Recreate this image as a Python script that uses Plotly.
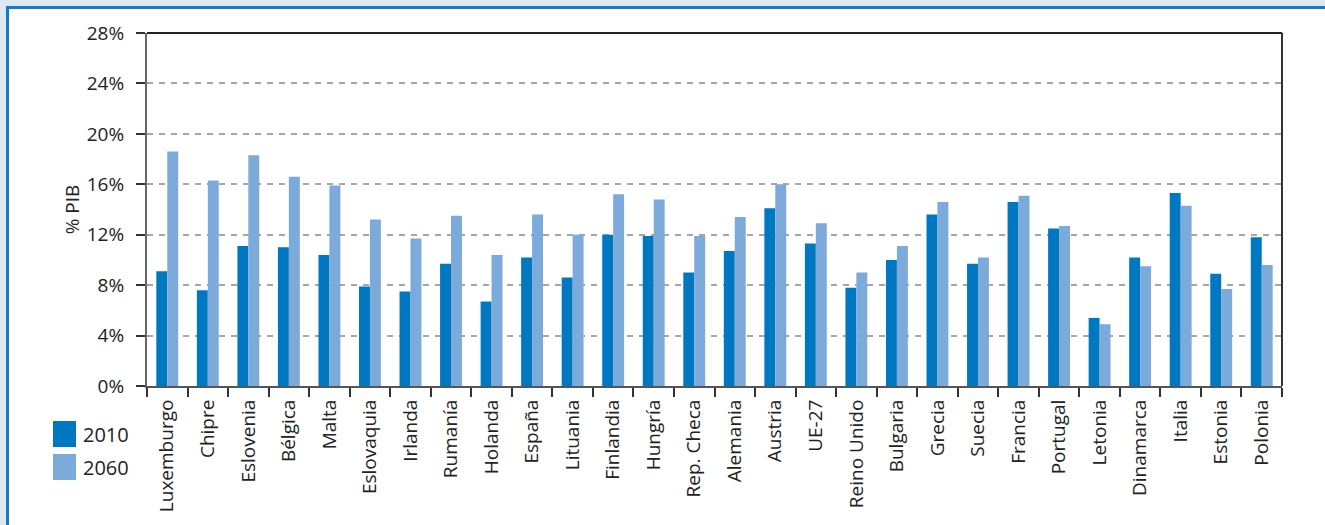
import plotly.graph_objects as go

categories = ["Luxemburgo", "Chipre", "Eslovenia", "Bélgica", "Malta", "Eslovaquia",
              "Irlanda", "Rumanía", "Holanda", "España", "Lituania", "Finlandia",
              "Hungría", "Rep. Checa", "Alemania", "Austria", "UE-27", "Reino Unido",
              "Bulgaria", "Grecia", "Suecia", "Francia", "Portugal", "Letonia",
              "Dinamarca", "Italia", "Estonia", "Polonia"]
series_names = ["2010", "2060"]
values_2010 = [9.1, 7.6, 11.1, 11.0, 10.4, 7.9, 7.5, 9.7, 6.7, 10.2, 8.6, 12.0,
               11.9, 9.0, 10.7, 14.1, 11.3, 7.8, 10.0, 13.6, 9.7, 14.6, 12.5, 5.4,
               10.2, 15.3, 8.9, 11.8]
values_2060 = [18.6, 16.3, 18.3, 16.6, 15.9, 13.2, 11.7, 13.5, 10.4, 13.6, 12.0, 15.2,
               14.8, 11.9, 13.4, 16.0, 12.9, 9.0, 11.1, 14.6, 10.2, 15.1, 12.7, 4.9,
               9.5, 14.3, 7.7, 9.6]
y_ticks = [0, 4, 8, 12, 16, 20, 24, 28]
y_tick_labels = [f"{v}%" for v in y_ticks]
y_title = "% PIB"

C2010 = "#0078c1"
C2060 = "#7baadb"
TXT = "#222222"
FONT = "Open Sans"

W, H = 1325, 525
L, R, T, B = 147, 43, 33, 139
PW, PH = W - L - R, H - T - B


def px_x(p):
    return (p - L) / PW


def px_y(p):
    return (H - B - p) / PH


fig = go.Figure()
fig.add_trace(go.Bar(x=categories, y=values_2010, name=series_names[0],
                     marker=dict(color=C2010, line=dict(width=0)), showlegend=False))
fig.add_trace(go.Bar(x=categories, y=values_2060, name=series_names[1],
                     marker=dict(color=C2060, line=dict(width=0)), showlegend=False))

shapes = [
    # outer frame
    dict(type="rect", xref="paper", yref="paper", x0=px_x(7.5), x1=px_x(W + 20),
         y0=px_y(H + 20), y1=px_y(7.5), line=dict(color="#1a78c6", width=3),
         fillcolor="white", layer="below"),
    # top and right plot border
    dict(type="line", xref="paper", yref="paper", x0=0, x1=1, y0=1, y1=1,
         line=dict(color="#222222", width=2)),
    dict(type="line", xref="paper", yref="paper", x0=1, x1=1, y0=0, y1=1,
         line=dict(color="#333333", width=2)),
]
annotations = []
leg_colors = [C2010, C2060]
leg_tops = [421, 454]
for name, col, top in zip(series_names, leg_colors, leg_tops):
    shapes.append(dict(type="rect", xref="paper", yref="paper", x0=px_x(53), x1=px_x(76),
                       y0=px_y(top + 26), y1=px_y(top), fillcolor=col, line=dict(width=0)))
    annotations.append(dict(xref="paper", yref="paper", x=px_x(81), y=px_y(top + 13),
                            text=name, showarrow=False, xanchor="left", yanchor="middle",
                            font=dict(family=FONT, size=20, color=TXT)))

fig.update_layout(
    width=W, height=H,
    margin=dict(l=L, r=R, t=T, b=B),
    paper_bgcolor="#dfe9f5",
    plot_bgcolor="rgba(0,0,0,0)",
    barmode="group", bargap=0.46, bargroupgap=0,
    font=dict(family=FONT, size=19, color=TXT),
    shapes=shapes,
    annotations=annotations,
    showlegend=False,
)
fig.update_xaxes(
    tickangle=-90, tickson="boundaries", ticks="outside", ticklen=9, tickwidth=1.5,
    tickcolor="#333333", showline=True, linecolor="#555555", linewidth=2,
    showgrid=False, ticklabelstandoff=4, tickfont=dict(family=FONT, size=19, color=TXT),
)
fig.update_yaxes(
    range=[0, 28], tickvals=y_ticks, ticktext=y_tick_labels,
    ticks="outside", ticklen=9, tickwidth=1.5, tickcolor="#333333",
    showline=True, linecolor="#666666", linewidth=2,
    showgrid=True, gridcolor="#a6a6a6", gridwidth=1.5, griddash="6px,6px",
    zeroline=False, ticklabelstandoff=8,
    tickfont=dict(family=FONT, size=19, color=TXT),
    title=dict(text=y_title, standoff=2, font=dict(family=FONT, size=19, color=TXT)),
)

fig.write_html("out.html", config={"displayModeBar": False},
               post_script="document.body.style.margin='0px';")
